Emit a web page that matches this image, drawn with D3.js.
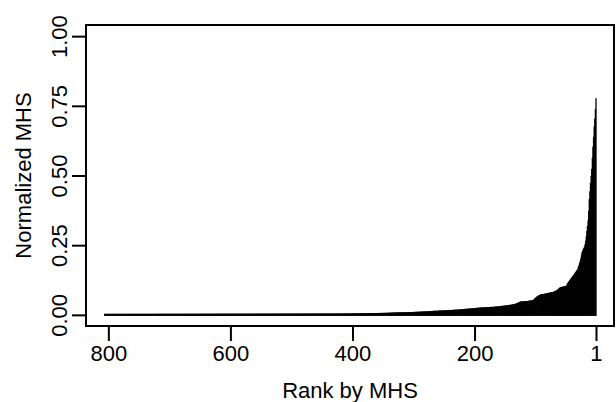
<!DOCTYPE html>
<html>
<head>
<meta charset="utf-8">
<script src="https://cdn.jsdelivr.net/npm/d3@7"></script>
<style>
  html, body { margin: 0; padding: 0; background: #fff; }
  text { font-family: "Liberation Sans", Arial, Helvetica, sans-serif; fill: #000; }
</style>
</head>
<body>
<svg id="chart" width="616" height="402"></svg>
<script>
// Normalized MHS, by rank (rank 1 first)
const mhs = [
0.774,0.735,0.700,0.672,0.635,0.600,0.560,0.520,0.495,0.470,
0.440,0.412,0.370,0.335,0.315,0.298,0.278,0.262,0.250,0.241,
0.236,0.232,0.226,0.221,0.210,0.198,0.190,0.182,0.175,0.168,
0.161,0.158,0.154,0.151,0.148,0.145,0.142,0.139,0.136,0.133,
0.130,0.127,0.124,0.121,0.118,0.115,0.112,0.108,0.104,0.101,
0.100,0.099,0.099,0.098,0.098,0.097,0.097,0.096,0.096,0.095,
0.093,0.091,0.089,0.087,0.085,0.084,0.083,0.082,0.081,0.080,
0.079,0.078,0.078,0.078,0.077,0.077,0.076,0.076,0.075,0.075,
0.074,0.074,0.073,0.073,0.072,0.072,0.071,0.071,0.071,0.070,
0.070,0.070,0.068,0.067,0.066,0.065,0.063,0.062,0.060,0.058,
0.056,0.054,0.052,0.050,0.049,0.049,0.048,0.048,0.048,0.047,
0.047,0.047,0.046,0.046,0.046,0.046,0.045,0.045,0.045,0.045,
0.045,0.045,0.045,0.044,0.044,0.043,0.042,0.041,0.040,0.039,
0.038,0.037,0.036,0.036,0.035,0.035,0.034,0.034,0.033,0.033,
0.033,0.032,0.032,0.032,0.031,0.031,0.031,0.030,0.030,0.030,
0.030,0.029,0.029,0.029,0.029,0.028,0.028,0.028,0.028,0.027,
0.027,0.027,0.027,0.026,0.026,0.026,0.026,0.026,0.025,0.025,
0.025,0.025,0.025,0.025,0.025,0.024,0.024,0.024,0.024,0.024,
0.024,0.024,0.024,0.023,0.023,0.023,0.023,0.023,0.023,0.023,
0.023,0.022,0.022,0.022,0.022,0.022,0.021,0.021,0.021,0.021,
0.020,0.020,0.020,0.020,0.020,0.019,0.019,0.019,0.019,0.019,
0.019,0.018,0.018,0.018,0.018,0.018,0.017,0.017,0.017,0.017,
0.017,0.016,0.016,0.016,0.016,0.016,0.016,0.015,0.015,0.015,
0.015,0.015,0.015,0.015,0.014,0.014,0.014,0.014,0.014,0.014,
0.014,0.014,0.013,0.013,0.013,0.013,0.013,0.013,0.013,0.013,
0.012,0.012,0.012,0.012,0.012,0.012,0.012,0.012,0.012,0.011,
0.011,0.011,0.011,0.011,0.011,0.011,0.011,0.011,0.010,0.010,
0.0100,0.0098,0.0096,0.0095,0.0094,0.0093,0.0092,0.0091,0.0090,0.0089,
0.0088,0.0087,0.0086,0.0085,0.0084,0.0083,0.0082,0.0081,0.0080,0.0079,
0.0078,0.0077,0.0076,0.0075,0.0074,0.0073,0.0072,0.0071,0.0070,0.0069,
0.0068,0.0067,0.0066,0.0065,0.0064,0.0063,0.0062,0.0061,0.0060,0.0060,
0.0059,0.0059,0.0058,0.0058,0.0057,0.0057,0.0056,0.0056,0.0056,0.0056,
0.0055,0.0055,0.0054,0.0054,0.0053,0.0053,0.0052,0.0052,0.0051,0.0051,
0.0050,0.0049,0.0048,0.0047,0.0046,0.0045,0.0044,0.0043,0.0042,0.0041,
0.0040,0.0039,0.0038,0.0038,0.0037,0.0037,0.0036,0.0036,0.0035,0.0035,
0.0034,0.0034,0.0033,0.0033,0.0033,0.0032,0.0032,0.0032,0.0031,0.0031,
0.0031,0.0030,0.0030,0.0030,0.0030,0.0029,0.0029,0.0029,0.0029,0.0028,
0.0028,0.0027,0.0027,0.0026,0.0026,0.0025,0.0025,0.0024,0.0024,0.0023,
0.0023,0.0023,0.0022,0.0022,0.0022,0.0021,0.0021,0.0021,0.0020,0.0020,
0.0020,0.0020,0.0019,0.0019,0.0019,0.0019,0.0018,0.0018,0.0018,0.0018,
0.0018,0.0017,0.0017,0.0017,0.0017,0.0017,0.0016,0.0016,0.0016,0.0016,
0.0016,0.0016,0.0015,0.0015,0.0015,0.0015,0.0015,0.0015,0.0015,0.0014,
0.0014,0.0014,0.0014,0.0014,0.0014,0.0014,0.0014,0.0014,0.0014,0.0014,
0.0014,0.0014,0.0013,0.0013,0.0013,0.0013,0.0013,0.0013,0.0013,0.0013,
0.0013,0.0013,0.0013,0.0013,0.0013,0.0012,0.0012,0.0012,0.0012,0.0012,
0.0012,0.0012,0.0012,0.0012,0.0012,0.0012,0.0012,0.0012,0.0012,0.0012,
0.0012,0.0012,0.0012,0.0011,0.0011,0.0011,0.0011,0.0011,0.0011,0.0011,
0.0011,0.0011,0.0011,0.0011,0.0011,0.0011,0.0011,0.0011,0.0011,0.0011,
0.0011,0.0011,0.0011,0.0011,0.0011,0.0010,0.0010,0.0010,0.0010,0.0010,
0.0010,0.0010,0.0010,0.0010,0.0010,0.0010,0.0010,0.0010,0.0010,0.0010,
0.0010,0.0010,0.0010,0.0010,0.0010,0.0009,0.0009,0.0009,0.0009,0.0009,
0.0009,0.0009,0.0009,0.0009,0.0009,0.0009,0.0009,0.0009,0.0009,0.0009,
0.0009,0.0009,0.0009,0.0009,0.0009,0.0009,0.0009,0.0009,0.0009,0.0009,
0.0009,0.0009,0.0009,0.0009,0.0009,0.0008,0.0008,0.0008,0.0008,0.0008,
0.0008,0.0008,0.0008,0.0008,0.0008,0.0008,0.0008,0.0008,0.0008,0.0008,
0.0008,0.0008,0.0008,0.0008,0.0008,0.0008,0.0008,0.0008,0.0008,0.0008,
0.0007,0.0007,0.0007,0.0007,0.0007,0.0007,0.0007,0.0007,0.0007,0.0007,
0.0007,0.0007,0.0007,0.0007,0.0007,0.0007,0.0007,0.0007,0.0007,0.0007,
0.0007,0.0007,0.0007,0.0007,0.0007,0.0007,0.0007,0.0007,0.0007,0.0007,
0.0006,0.0006,0.0006,0.0006,0.0006,0.0006,0.0006,0.0006,0.0006,0.0006,
0.0006,0.0006,0.0006,0.0006,0.0006,0.0006,0.0006,0.0006,0.0006,0.0006,
0.0006,0.0006,0.0006,0.0006,0.0006,0.0006,0.0006,0.0006,0.0006,0.0006,
0.0005,0.0005,0.0005,0.0005,0.0005,0.0005,0.0005,0.0005,0.0005,0.0005,
0.0005,0.0005,0.0005,0.0005,0.0005,0.0005,0.0005,0.0005,0.0005,0.0005,
0.0005,0.0005,0.0005,0.0005,0.0005,0.0005,0.0005,0.0005,0.0005,0.0005,
0.0004,0.0004,0.0004,0.0004,0.0004,0.0004,0.0004,0.0004,0.0004,0.0004,
0.0004,0.0004,0.0004,0.0004,0.0004,0.0004,0.0004,0.0004,0.0004,0.0004,
0.0004,0.0004,0.0004,0.0004,0.0004,0.0004,0.0004,0.0004,0.0004,0.0004,
0.0003,0.0003,0.0003,0.0003,0.0003,0.0003,0.0003,0.0003,0.0003,0.0003,
0.0003,0.0003,0.0003,0.0003,0.0003,0.0003,0.0003,0.0003,0.0003,0.0003,
0.0003,0.0003,0.0003,0.0003,0.0003,0.0003,0.0003,0.0003,0.0003,0.0003,
0.0003,0.0003,0.0003,0.0003,0.0003,0.0003,0.0003,0.0003,0.0003,0.0003,
0.0002,0.0002,0.0002,0.0002,0.0002,0.0002,0.0002,0.0002,0.0002,0.0002,
0.0002,0.0002,0.0002,0.0002,0.0002,0.0002,0.0002,0.0002,0.0002,0.0002,
0.0002,0.0002,0.0002,0.0002,0.0002,0.0002,0.0002,0.0002,0.0002,0.0002,
0.0002,0.0002,0.0002,0.0002,0.0002,0.0002,0.0002,0.0002,0.0002,0.0002,
0.0002,0.0002,0.0002,0.0002,0.0002,0.0002,0.0002,0.0002,0.0002,0.0002,
0.0001,0.0001,0.0001,0.0001,0.0001,0.0001,0.0001,0.0001,0.0001,0.0001,
0.0001,0.0001,0.0001,0.0001,0.0001,0.0001,0.0001,0.0001,0.0001,0.0001,
0.0001,0.0001,0.0001,0.0001,0.0001,0.0001,0.0001,0.0001,0.0001,0.0001,
0.0001,0.0001,0.0001,0.0001,0.0001,0.0001
];
const xTicks = [800, 600, 400, 200, 1];
const yTicks = [0, 0.25, 0.5, 0.75, 1];
const xTitle = "Rank by MHS";
const yTitle = "Normalized MHS";

const svg = d3.select("#chart");
const box = { left: 86, right: 614, top: 25, bottom: 326 };

const x = d3.scaleLinear().domain([836.6, -28.5]).range([box.left, box.right]);
const y = d3.scaleLinear().domain([-0.04, 1.04]).range([box.bottom, box.top]);

const data = mhs.map((v, i) => ({ rank: i + 1, value: v }));

// bars (type = "h")
svg.append("g")
  .selectAll("rect")
  .data(data)
  .join("rect")
  .attr("x", d => x(d.rank) - 0.65)
  .attr("width", 1.3)
  .attr("y", d => y(d.value) - 1)
  .attr("height", d => y(0) - y(d.value) + 2)
  .attr("fill", "#000");

// plot box
svg.append("rect")
  .attr("x", box.left).attr("y", box.top)
  .attr("width", box.right - box.left).attr("height", box.bottom - box.top)
  .attr("fill", "none").attr("stroke", "#000").attr("stroke-width", 2);

// x axis
const xAxis = d3.axisBottom(x).tickValues(xTicks).tickSize(15).tickPadding(4).tickFormat(d3.format("d"));
const gx = svg.append("g").attr("transform", `translate(0,${box.bottom})`).call(xAxis);
gx.select(".domain").remove();
gx.selectAll(".tick line").attr("stroke", "#000").attr("stroke-width", 2);
gx.selectAll(".tick text").attr("font-size", 22).attr("font-family", "Liberation Sans, Arial, sans-serif");

// y axis
const yAxis = d3.axisLeft(y).tickValues(yTicks).tickSize(14).tickFormat(d3.format(".2f"));
const gy = svg.append("g").attr("transform", `translate(${box.left},0)`).call(yAxis);
gy.select(".domain").remove();
gy.selectAll(".tick line").attr("stroke", "#000").attr("stroke-width", 2);
gy.selectAll(".tick text")
  .attr("font-size", 22)
  .attr("font-family", "Liberation Sans, Arial, sans-serif")
  .attr("x", null).attr("dy", null)
  .attr("text-anchor", "middle")
  .attr("transform", "translate(-19,0) rotate(-90)");

// titles
svg.append("text")
  .attr("x", (box.left + box.right) / 2)
  .attr("y", 398)
  .attr("text-anchor", "middle")
  .attr("font-size", 22)
  .text(xTitle);

svg.append("text")
  .attr("transform", `translate(31,${(box.top + box.bottom) / 2}) rotate(-90)`)
  .attr("text-anchor", "middle")
  .attr("font-size", 22)
  .text(yTitle);
</script>
</body>
</html>
